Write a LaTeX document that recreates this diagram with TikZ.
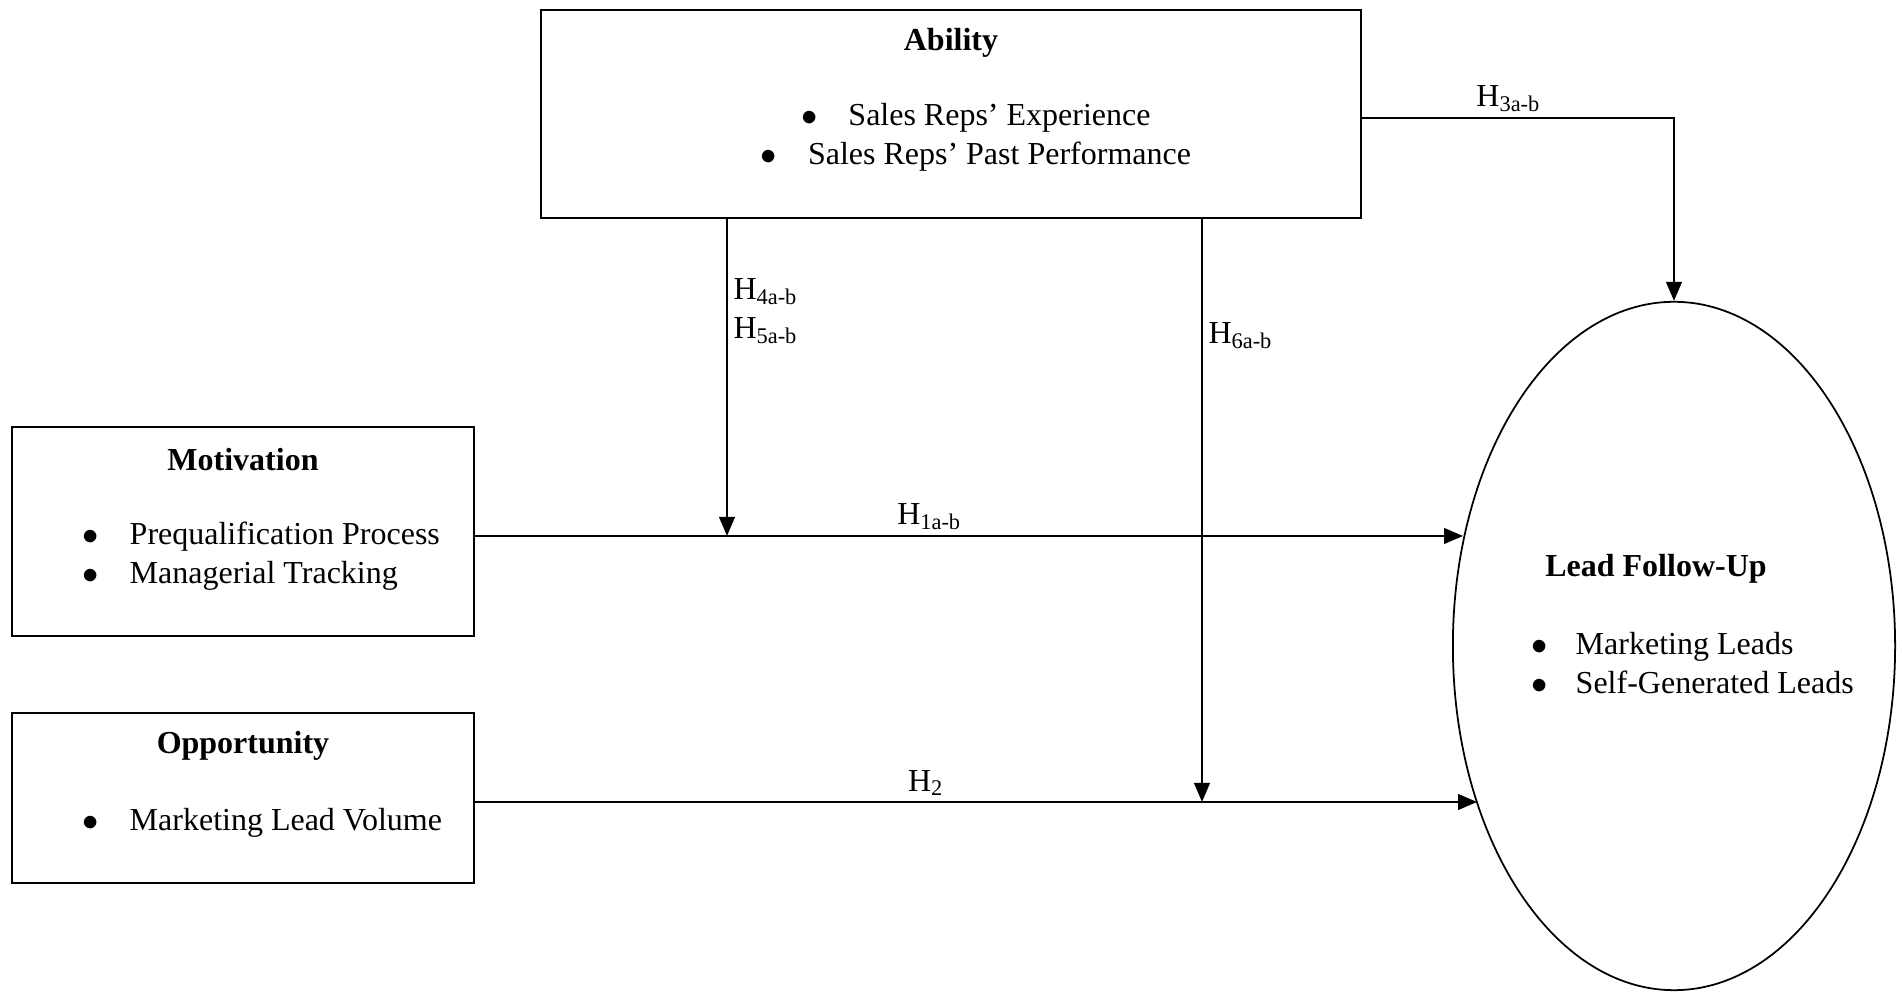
\documentclass[tikz,border=0pt]{standalone}
\usepackage{fontspec}
\setmainfont{Liberation Serif}
\usetikzlibrary{arrows.meta, positioning, shapes.geometric}
\newcommand{\fsz}{\fontsize{9.1}{11}\selectfont}
\newcommand{\itm}[1]{\makebox[#1][l]{$\bullet$}}

\begin{document}
\begin{tikzpicture}[x=0.01cm, y=-0.01cm, >={Triangle[length=0.19cm, width=0.155cm]},
  every node/.style={font=\fsz},
  box/.style={draw, line width=0.6pt, inner sep=0pt},
  title/.style={font=\fsz\bfseries},
  blist/.style={inner sep=0pt},
  conn/.style={->, line width=0.7pt},
  hlab/.style={inner sep=1.5pt}]

\useasboundingbox (0,0) rectangle (1902,992);

% Boxes for Ability, Motivation and Opportunity
\node[box, minimum width=8.2cm, minimum height=2.08cm] (abl) at (951,114) {};
\node[box, minimum width=4.62cm, minimum height=2.09cm] (mot) at (243,531.5) {};
\node[box, minimum width=4.62cm, minimum height=1.70cm] (opp) at (243,798) {};

% Ellipse for Lead Follow-Up
\node[draw, ellipse, line width=0.5pt, minimum width=4.42cm, minimum height=6.88cm, inner sep=0pt] (lfu) at (1674,646) {};

% Titles and bullet lists
\node[title] (ablT) at (951,43) {Ability};
\node[blist, align=center] (ablL) at (976,137) {\itm{0.47cm}Sales Reps’ Experience\\ \itm{0.47cm}Sales Reps’ Past Performance};

\node[title] (motT) at (243,460) {Motivation};
\node[blist, align=left, anchor=west] (motL) at (82,556) {\itm{0.47cm}Prequalification Process\\ \itm{0.47cm}Managerial Tracking};

\node[title] (oppT) at (243,746) {Opportunity};
\node[blist, anchor=west] (oppL) at (82,823) {\itm{0.47cm}Marketing Lead Volume};

\node[title] (lfuT) at (1656,569) {Lead Follow-Up};
\node[blist, align=left, anchor=west] (lfuL) at (1531,663) {\itm{0.44cm}Marketing Leads\\ \itm{0.44cm}Self-Generated Leads};

% points where the moderators meet the paths
\coordinate (m1) at (727,536);
\coordinate (m2) at (1202,802);
\coordinate (c3) at (1674,118);

% H1 and H2: direct paths
\draw[conn] (mot.east |- m1) -- (m1 -| lfu.153) node[pos=0.46, above, hlab] (h1) {H\textsubscript{1a-b}};
\draw[conn] (opp.east |- m2) -- (m2 -| lfu.219) node[pos=0.45, above, hlab] (h2) {H\textsubscript{2}};

% H3: Ability to Lead Follow-Up
\draw[conn] (abl.east |- c3) -- (c3) node[pos=0.47, above, hlab] (h3) {H\textsubscript{3a-b}} -- (lfu.north);

% H4, H5 and H6: moderating paths
\draw[conn] (abl.south -| m1) -- (m1) node[pos=0.29, right, hlab, align=left] (h45) {H\textsubscript{4a-b}\\H\textsubscript{5a-b}};
\draw[conn] (abl.south -| m2) -- (m2) node[pos=0.20, right, hlab] (h6) {H\textsubscript{6a-b}};

\end{tikzpicture}
\end{document}
